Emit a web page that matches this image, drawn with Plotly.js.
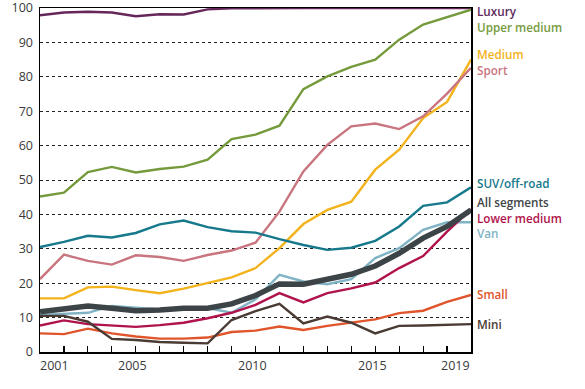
<!DOCTYPE html>
<html>
<head>
<meta charset="utf-8">
<script src="https://cdn.plot.ly/plotly-3.0.1.min.js"></script>
<style>html,body{margin:0;padding:0;background:#fff;}#chart{width:585px;height:389px;}</style>
</head>
<body>
<div id="chart"></div>
<script>
const years = [2001,2002,2003,2004,2005,2006,2007,2008,2009,2010,2011,2012,2013,2014,2015,2016,2017,2018,2019];
const xTickLabels = [2001, 2005, 2010, 2015, 2019];
const yTickValues = [0,10,20,30,40,50,60,70,80,90,100];

const seriesNames = ["Luxury","Upper medium","Medium","Sport","SUV/off-road","Van","Lower medium","Small","Mini","All segments"];

const luxury      = [97.9,98.7,98.9,98.7,97.6,98.2,98.1,99.6,99.9,100,100,100,100,100,100,100,100,100,100];
const upperMedium = [45.2,46.3,52.3,53.8,52.2,53.2,53.9,55.9,61.9,63.2,65.8,76.4,80.1,82.9,85.0,90.8,95.2,97.4,99.5];
const medium      = [15.6,15.6,18.8,19.0,18.0,17.1,18.4,20.0,21.7,24.4,30.2,37.2,41.3,43.7,53.0,58.8,68.0,72.7,85.0];
const sport       = [21.2,28.3,26.5,25.4,28.1,27.6,26.5,28.2,29.5,31.8,40.8,52.5,60.2,65.6,66.4,64.8,68.5,75.1,82.6];
const suvOffroad  = [30.5,32.0,33.8,33.3,34.6,37.1,38.2,36.3,35.1,34.7,32.8,31.1,29.7,30.3,32.3,36.5,42.5,43.5,47.9];
const van         = [10.8,11.1,11.4,13.4,13.0,12.4,12.9,12.8,11.4,15.3,22.4,20.5,19.7,21.2,27.3,30.2,35.5,37.7,37.7];
const lowerMedium = [7.7,9.2,8.1,7.7,7.3,7.8,8.5,9.8,11.4,13.7,17.1,14.4,17.1,18.5,20.2,24.4,27.9,35.0,41.5];
const small       = [5.4,5.2,6.8,5.4,4.5,3.9,3.9,4.2,5.8,6.2,7.4,6.4,7.6,8.6,9.5,11.3,12.0,14.6,16.6];
const mini        = [10.5,10.5,8.8,3.8,3.5,2.9,2.7,2.5,9.3,11.9,14.0,8.3,10.3,8.5,5.4,7.6,7.7,7.9,8.1];
const allSegments = [11.7,12.5,13.4,12.7,12.0,12.2,12.7,12.7,14.0,16.4,19.8,19.7,21.2,22.6,25.0,28.7,33.1,36.5,41.3];

const seriesValues = [luxury, upperMedium, medium, sport, suvOffroad, van, lowerMedium, small, mini, allSegments];

// styles
const style = {
  "Luxury":       {color:"#65275a", label:"#5f2a5c", width:2.4, labelShift:-3},
  "Upper medium": {color:"#759a3c", label:"#759a3c", width:2.4, labelShift:-17},
  "Medium":       {color:"#f2b31c", label:"#f2b31c", width:2.4, labelShift:6},
  "Sport":        {color:"#c9757f", label:"#c9757f", width:2.4, labelShift:-2},
  "SUV/off-road": {color:"#16798c", label:"#16798c", width:2.4, labelShift:4},
  "Van":          {color:"#80b3c4", label:"#80b3c4", width:2.4, labelShift:-11},
  "Lower medium": {color:"#b0134c", label:"#b0134c", width:2.4, labelShift:-9},
  "Small":        {color:"#e0552b", label:"#e0552b", width:2.4, labelShift:1},
  "Mini":         {color:"#4a3b34", label:"#4a3b34", width:2.4, labelShift:0},
  "All segments": {color:"#3d4447", label:"#3d4447", width:5.5, labelShift:8}
};

const traces = seriesNames.map((n, i) => ({
  type: "scatter", mode: "lines", name: n, x: years, y: seriesValues[i],
  line: {color: style[n].color, width: style[n].width},
  cliponaxis: false, hoverinfo: "skip"
}));

const annotations = [];
seriesNames.forEach((n, i) => {
  const v = seriesValues[i];
  annotations.push({
    xref: "paper", yref: "y", x: 1, y: v[v.length-1], xanchor: "left", yanchor: "middle",
    xshift: 5, yshift: style[n].labelShift, showarrow: false, text: n,
    font: {family: "Open Sans, sans-serif", size: 11.7, color: style[n].label, weight: 600},
    borderpad: 0
  });
});
xTickLabels.forEach((t, i) => {
  let anchor = "center";
  let xs = -3;
  if (i === 0) { anchor = "left"; xs = -2; }
  if (i === xTickLabels.length - 1) { anchor = "right"; xs = 1; }
  annotations.push({
    xref: "x", yref: "paper", x: t, y: 0, xanchor: anchor, yanchor: "top",
    xshift: xs, yshift: -3, showarrow: false, text: String(t),
    font: {family: "Open Sans, sans-serif", size: 12.5, color: "#3a3a3a"}
  });
});

const layout = {
  width: 585, height: 389,
  margin: {l: 40, r: 114, t: 8, b: 37},
  paper_bgcolor: "#fff", plot_bgcolor: "#fff",
  showlegend: false,
  xaxis: {
    range: [2001, 2019], showgrid: false, zeroline: false,
    showline: true, linecolor: "#000", linewidth: 1.5, mirror: true,
    tickmode: "array", tickvals: years.slice(1, -1), ticks: "inside", ticklen: 6, tickwidth: 1.2, tickcolor: "#000",
    showticklabels: false
  },
  yaxis: {
    range: [0, 100], zeroline: false,
    showline: true, linecolor: "#000", linewidth: 1.5, mirror: true,
    tickmode: "array", tickvals: yTickValues, ticks: "outside", ticklen: 3, tickcolor: "rgba(0,0,0,0)",
    ticklabeloverflow: "allow",
    showgrid: true, gridcolor: "#222", gridwidth: 1, griddash: "dot",
    tickfont: {family: "Open Sans, sans-serif", size: 12.5, color: "#3a3a3a"}
  },
  annotations: annotations
};

Plotly.newPlot("chart", traces, layout, {displayModeBar: false, staticPlot: true});
</script>
</body>
</html>
